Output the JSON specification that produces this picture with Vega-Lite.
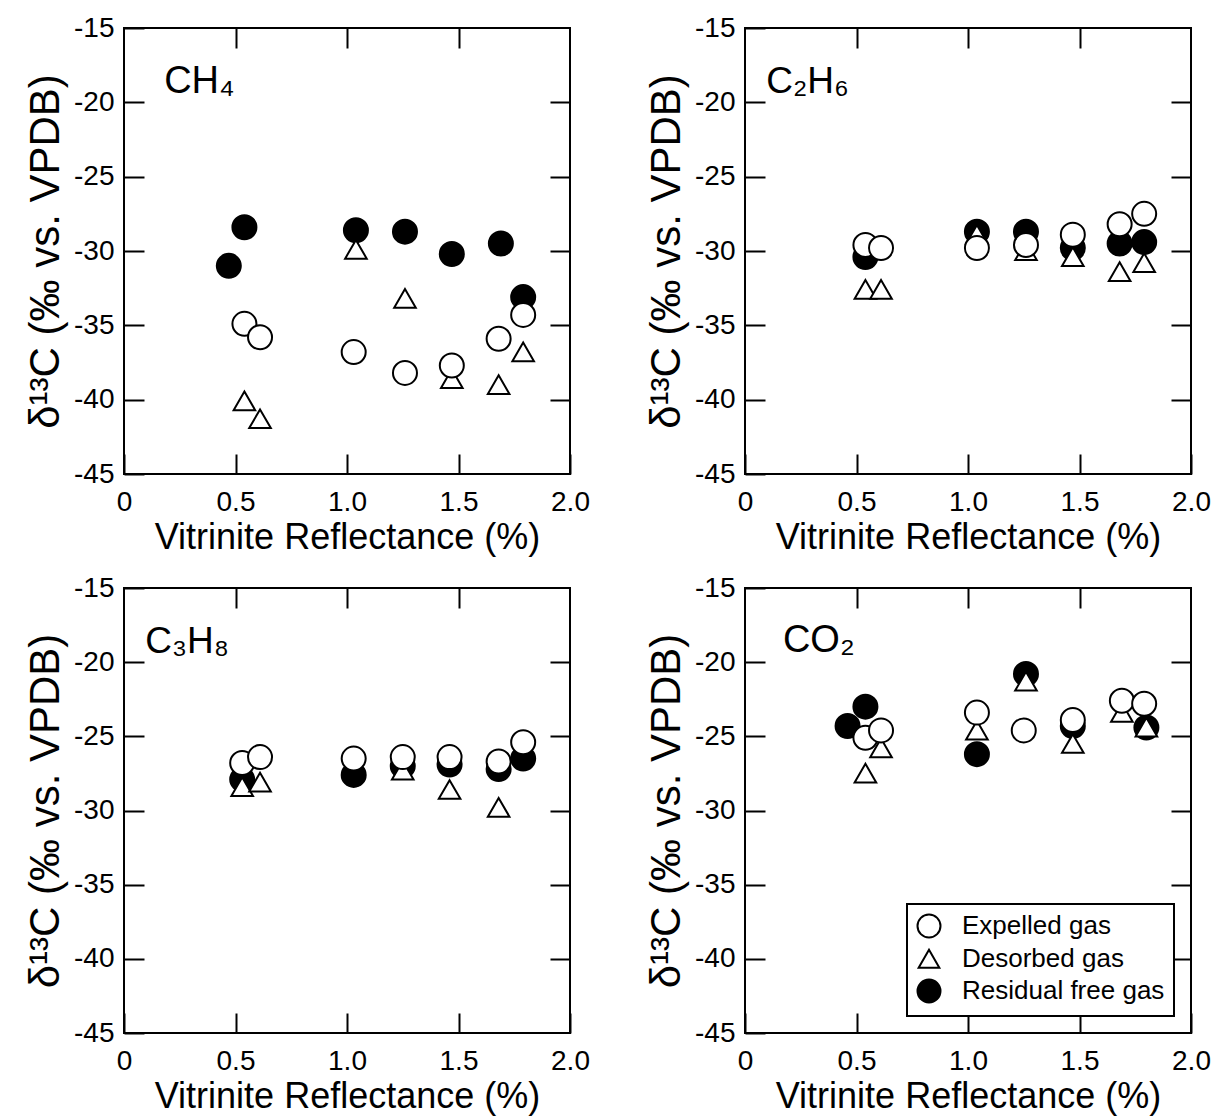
{
  "$schema": "https://vega.github.io/schema/vega-lite/v6.json",
  "background": "white",
  "padding": {"left": 23, "top": 13, "right": 5, "bottom": 5},
  "config": {
    "font": "Liberation Sans",
    "view": {"stroke": "black", "strokeWidth": 2},
    "axis": {
      "domain": false, "grid": false, "ticks": true, "tickSize": -20, "tickWidth": 2, "tickColor": "black",
      "labelFont": "Liberation Sans", "labelFontSize": 28, "labelColor": "black",
      "titleFont": "Liberation Sans", "titleFontWeight": "normal", "titleColor": "black",
      "labelOverlap": false, "labelFlush": false
    },
    "axisX": {"titleFontSize": 36},
    "axisY": {"titleFontSize": 42},
    "legend": {"strokeWidth": 2}
  },
  "datasets": {
    "pts": [
      {"gas": "CH4", "type": "Residual free gas", "ro": 0.47, "d13c": -31.0},
      {"gas": "CH4", "type": "Residual free gas", "ro": 0.54, "d13c": -28.4},
      {"gas": "CH4", "type": "Residual free gas", "ro": 1.04, "d13c": -28.6},
      {"gas": "CH4", "type": "Residual free gas", "ro": 1.26, "d13c": -28.7},
      {"gas": "CH4", "type": "Residual free gas", "ro": 1.47, "d13c": -30.2},
      {"gas": "CH4", "type": "Residual free gas", "ro": 1.69, "d13c": -29.5},
      {"gas": "CH4", "type": "Residual free gas", "ro": 1.79, "d13c": -33.1},
      {"gas": "CH4", "type": "Desorbed gas", "ro": 0.54, "d13c": -40.1},
      {"gas": "CH4", "type": "Desorbed gas", "ro": 0.61, "d13c": -41.3},
      {"gas": "CH4", "type": "Desorbed gas", "ro": 1.04, "d13c": -29.9},
      {"gas": "CH4", "type": "Desorbed gas", "ro": 1.26, "d13c": -33.2},
      {"gas": "CH4", "type": "Desorbed gas", "ro": 1.47, "d13c": -38.6},
      {"gas": "CH4", "type": "Desorbed gas", "ro": 1.68, "d13c": -39.0},
      {"gas": "CH4", "type": "Desorbed gas", "ro": 1.79, "d13c": -36.8},
      {"gas": "CH4", "type": "Expelled gas", "ro": 0.54, "d13c": -34.9},
      {"gas": "CH4", "type": "Expelled gas", "ro": 0.61, "d13c": -35.8},
      {"gas": "CH4", "type": "Expelled gas", "ro": 1.03, "d13c": -36.8},
      {"gas": "CH4", "type": "Expelled gas", "ro": 1.26, "d13c": -38.2},
      {"gas": "CH4", "type": "Expelled gas", "ro": 1.47, "d13c": -37.7},
      {"gas": "CH4", "type": "Expelled gas", "ro": 1.68, "d13c": -35.9},
      {"gas": "CH4", "type": "Expelled gas", "ro": 1.79, "d13c": -34.3},

      {"gas": "C2H6", "type": "Residual free gas", "ro": 0.54, "d13c": -30.4},
      {"gas": "C2H6", "type": "Residual free gas", "ro": 1.04, "d13c": -28.7},
      {"gas": "C2H6", "type": "Residual free gas", "ro": 1.26, "d13c": -28.7},
      {"gas": "C2H6", "type": "Residual free gas", "ro": 1.47, "d13c": -29.8},
      {"gas": "C2H6", "type": "Residual free gas", "ro": 1.68, "d13c": -29.5},
      {"gas": "C2H6", "type": "Residual free gas", "ro": 1.79, "d13c": -29.4},
      {"gas": "C2H6", "type": "Desorbed gas", "ro": 0.54, "d13c": -32.6},
      {"gas": "C2H6", "type": "Desorbed gas", "ro": 0.61, "d13c": -32.6},
      {"gas": "C2H6", "type": "Desorbed gas", "ro": 1.04, "d13c": -28.9},
      {"gas": "C2H6", "type": "Desorbed gas", "ro": 1.26, "d13c": -30.0},
      {"gas": "C2H6", "type": "Desorbed gas", "ro": 1.47, "d13c": -30.4},
      {"gas": "C2H6", "type": "Desorbed gas", "ro": 1.68, "d13c": -31.4},
      {"gas": "C2H6", "type": "Desorbed gas", "ro": 1.79, "d13c": -30.8},
      {"gas": "C2H6", "type": "Expelled gas", "ro": 0.54, "d13c": -29.6},
      {"gas": "C2H6", "type": "Expelled gas", "ro": 0.61, "d13c": -29.8},
      {"gas": "C2H6", "type": "Expelled gas", "ro": 1.04, "d13c": -29.8},
      {"gas": "C2H6", "type": "Expelled gas", "ro": 1.26, "d13c": -29.6},
      {"gas": "C2H6", "type": "Expelled gas", "ro": 1.47, "d13c": -28.9},
      {"gas": "C2H6", "type": "Expelled gas", "ro": 1.68, "d13c": -28.2},
      {"gas": "C2H6", "type": "Expelled gas", "ro": 1.79, "d13c": -27.5},

      {"gas": "C3H8", "type": "Residual free gas", "ro": 0.53, "d13c": -27.9},
      {"gas": "C3H8", "type": "Residual free gas", "ro": 1.03, "d13c": -27.6},
      {"gas": "C3H8", "type": "Residual free gas", "ro": 1.25, "d13c": -27.0},
      {"gas": "C3H8", "type": "Residual free gas", "ro": 1.46, "d13c": -26.9},
      {"gas": "C3H8", "type": "Residual free gas", "ro": 1.68, "d13c": -27.2},
      {"gas": "C3H8", "type": "Residual free gas", "ro": 1.79, "d13c": -26.5},
      {"gas": "C3H8", "type": "Desorbed gas", "ro": 0.53, "d13c": -28.4},
      {"gas": "C3H8", "type": "Desorbed gas", "ro": 0.61, "d13c": -28.1},
      {"gas": "C3H8", "type": "Desorbed gas", "ro": 1.25, "d13c": -27.3},
      {"gas": "C3H8", "type": "Desorbed gas", "ro": 1.46, "d13c": -28.6},
      {"gas": "C3H8", "type": "Desorbed gas", "ro": 1.68, "d13c": -29.8},
      {"gas": "C3H8", "type": "Expelled gas", "ro": 0.53, "d13c": -26.8},
      {"gas": "C3H8", "type": "Expelled gas", "ro": 0.61, "d13c": -26.4},
      {"gas": "C3H8", "type": "Expelled gas", "ro": 1.03, "d13c": -26.5},
      {"gas": "C3H8", "type": "Expelled gas", "ro": 1.25, "d13c": -26.4},
      {"gas": "C3H8", "type": "Expelled gas", "ro": 1.46, "d13c": -26.4},
      {"gas": "C3H8", "type": "Expelled gas", "ro": 1.68, "d13c": -26.7},
      {"gas": "C3H8", "type": "Expelled gas", "ro": 1.79, "d13c": -25.4},

      {"gas": "CO2", "type": "Residual free gas", "ro": 0.46, "d13c": -24.3},
      {"gas": "CO2", "type": "Residual free gas", "ro": 0.54, "d13c": -23.0},
      {"gas": "CO2", "type": "Residual free gas", "ro": 1.04, "d13c": -26.2},
      {"gas": "CO2", "type": "Residual free gas", "ro": 1.26, "d13c": -20.8},
      {"gas": "CO2", "type": "Residual free gas", "ro": 1.47, "d13c": -24.3},
      {"gas": "CO2", "type": "Residual free gas", "ro": 1.80, "d13c": -24.4},
      {"gas": "CO2", "type": "Desorbed gas", "ro": 0.54, "d13c": -27.5},
      {"gas": "CO2", "type": "Desorbed gas", "ro": 0.61, "d13c": -25.8},
      {"gas": "CO2", "type": "Desorbed gas", "ro": 1.04, "d13c": -24.6},
      {"gas": "CO2", "type": "Desorbed gas", "ro": 1.26, "d13c": -21.3},
      {"gas": "CO2", "type": "Desorbed gas", "ro": 1.47, "d13c": -25.5},
      {"gas": "CO2", "type": "Desorbed gas", "ro": 1.69, "d13c": -23.4},
      {"gas": "CO2", "type": "Desorbed gas", "ro": 1.80, "d13c": -24.4},
      {"gas": "CO2", "type": "Expelled gas", "ro": 0.54, "d13c": -25.1},
      {"gas": "CO2", "type": "Expelled gas", "ro": 0.61, "d13c": -24.6},
      {"gas": "CO2", "type": "Expelled gas", "ro": 1.04, "d13c": -23.4},
      {"gas": "CO2", "type": "Expelled gas", "ro": 1.25, "d13c": -24.6},
      {"gas": "CO2", "type": "Expelled gas", "ro": 1.47, "d13c": -23.9},
      {"gas": "CO2", "type": "Expelled gas", "ro": 1.69, "d13c": -22.6},
      {"gas": "CO2", "type": "Expelled gas", "ro": 1.79, "d13c": -22.8}
    ]
  },
  "columns": 2,
  "bounds": "flush",
  "spacing": {"row": 114, "column": 175},
  "resolve": {"legend": {"shape": "independent", "fill": "independent", "stroke": "independent"}},
  "concat": [
    {
      "width": 446, "height": 446,
      "layer": [
        {
          "data": {"name": "pts"},
          "transform": [{"filter": "datum.gas === 'CH4'"}],
          "mark": {"type": "point", "filled": true, "stroke": "black", "strokeWidth": 2, "opacity": 1, "size": 576},
          "encoding": {
            "x": {"field": "ro", "type": "quantitative", "scale": {"domain": [0, 2], "nice": false, "zero": false},
                  "axis": {"orient": "bottom", "values": [0, 0.5, 1, 1.5, 2], "labelExpr": "datum.value === 0 ? '0' : format(datum.value, '.1f')", "labelPadding": 34, "title": "Vitrinite Reflectance (%)", "titlePadding": 4}},
            "y": {"field": "d13c", "type": "quantitative", "scale": {"domain": [-45, -15], "nice": false, "zero": false},
                  "axis": {"orient": "left", "values": [-45, -40, -35, -30, -25, -20, -15], "labelExpr": "'' + datum.value", "labelPadding": 30, "title": "δ¹³C (‰ vs. VPDB)", "titlePadding": 6}},
            "shape": {"field": "type", "type": "nominal", "scale": {"domain": ["Expelled gas", "Desorbed gas", "Residual free gas"], "range": ["circle", "M0,-0.8L0.9,0.76L-0.9,0.76Z", "circle"]}, "legend": null},
            "fill": {"field": "type", "type": "nominal", "scale": {"domain": ["Expelled gas", "Desorbed gas", "Residual free gas"], "range": ["white", "white", "black"]}, "legend": null}
          }
        },
        {
          "data": {"name": "pts"},
          "transform": [{"filter": "datum.gas === 'CH4'"}],
          "mark": {"type": "point", "opacity": 0},
          "encoding": {
            "x": {"field": "ro", "type": "quantitative", "axis": {"orient": "top", "values": [0.5, 1, 1.5], "labels": false, "title": null}},
            "y": {"field": "d13c", "type": "quantitative", "axis": {"orient": "right", "values": [-40, -35, -30, -25, -20], "labels": false, "title": null}}
          }
        },
        {
          "data": {"values": [{"label": "CH₄"}]},
          "mark": {"type": "text", "align": "left", "baseline": "alphabetic", "fontSize": 38, "font": "Liberation Sans", "color": "black"},
          "encoding": {
            "x": {"datum": 0.18, "type": "quantitative", "axis": null},
            "y": {"datum": -19.4, "type": "quantitative", "axis": null},
            "text": {"field": "label"}
          }
        }
      ],
      "resolve": {"axis": {"x": "independent", "y": "independent"}}
    },
    {
      "width": 446, "height": 446,
      "layer": [
        {
          "data": {"name": "pts"},
          "transform": [{"filter": "datum.gas === 'C2H6'"}],
          "mark": {"type": "point", "filled": true, "stroke": "black", "strokeWidth": 2, "opacity": 1, "size": 576},
          "encoding": {
            "x": {"field": "ro", "type": "quantitative", "scale": {"domain": [0, 2], "nice": false, "zero": false},
                  "axis": {"orient": "bottom", "values": [0, 0.5, 1, 1.5, 2], "labelExpr": "datum.value === 0 ? '0' : format(datum.value, '.1f')", "labelPadding": 34, "title": "Vitrinite Reflectance (%)", "titlePadding": 4}},
            "y": {"field": "d13c", "type": "quantitative", "scale": {"domain": [-45, -15], "nice": false, "zero": false},
                  "axis": {"orient": "left", "values": [-45, -40, -35, -30, -25, -20, -15], "labelExpr": "'' + datum.value", "labelPadding": 30, "title": "δ¹³C (‰ vs. VPDB)", "titlePadding": 6}},
            "shape": {"field": "type", "type": "nominal", "scale": {"domain": ["Expelled gas", "Desorbed gas", "Residual free gas"], "range": ["circle", "M0,-0.8L0.9,0.76L-0.9,0.76Z", "circle"]}, "legend": null},
            "fill": {"field": "type", "type": "nominal", "scale": {"domain": ["Expelled gas", "Desorbed gas", "Residual free gas"], "range": ["white", "white", "black"]}, "legend": null}
          }
        },
        {
          "data": {"name": "pts"},
          "transform": [{"filter": "datum.gas === 'C2H6'"}],
          "mark": {"type": "point", "opacity": 0},
          "encoding": {
            "x": {"field": "ro", "type": "quantitative", "axis": {"orient": "top", "values": [0.5, 1, 1.5], "labels": false, "title": null}},
            "y": {"field": "d13c", "type": "quantitative", "axis": {"orient": "right", "values": [-40, -35, -30, -25, -20], "labels": false, "title": null}}
          }
        },
        {
          "data": {"values": [{"label": "C₂H₆"}]},
          "mark": {"type": "text", "align": "left", "baseline": "alphabetic", "fontSize": 37, "font": "Liberation Sans", "color": "black"},
          "encoding": {
            "x": {"datum": 0.095, "type": "quantitative", "axis": null},
            "y": {"datum": -19.4, "type": "quantitative", "axis": null},
            "text": {"field": "label"}
          }
        }
      ],
      "resolve": {"axis": {"x": "independent", "y": "independent"}}
    },
    {
      "width": 446, "height": 445,
      "layer": [
        {
          "data": {"name": "pts"},
          "transform": [{"filter": "datum.gas === 'C3H8'"}],
          "mark": {"type": "point", "filled": true, "stroke": "black", "strokeWidth": 2, "opacity": 1, "size": 576},
          "encoding": {
            "x": {"field": "ro", "type": "quantitative", "scale": {"domain": [0, 2], "nice": false, "zero": false},
                  "axis": {"orient": "bottom", "values": [0, 0.5, 1, 1.5, 2], "labelExpr": "datum.value === 0 ? '0' : format(datum.value, '.1f')", "labelPadding": 34, "title": "Vitrinite Reflectance (%)", "titlePadding": 4}},
            "y": {"field": "d13c", "type": "quantitative", "scale": {"domain": [-45, -15], "nice": false, "zero": false},
                  "axis": {"orient": "left", "values": [-45, -40, -35, -30, -25, -20, -15], "labelExpr": "'' + datum.value", "labelPadding": 30, "title": "δ¹³C (‰ vs. VPDB)", "titlePadding": 6}},
            "shape": {"field": "type", "type": "nominal", "scale": {"domain": ["Expelled gas", "Desorbed gas", "Residual free gas"], "range": ["circle", "M0,-0.8L0.9,0.76L-0.9,0.76Z", "circle"]}, "legend": null},
            "fill": {"field": "type", "type": "nominal", "scale": {"domain": ["Expelled gas", "Desorbed gas", "Residual free gas"], "range": ["white", "white", "black"]}, "legend": null}
          }
        },
        {
          "data": {"name": "pts"},
          "transform": [{"filter": "datum.gas === 'C3H8'"}],
          "mark": {"type": "point", "opacity": 0},
          "encoding": {
            "x": {"field": "ro", "type": "quantitative", "axis": {"orient": "top", "values": [0.5, 1, 1.5], "labels": false, "title": null}},
            "y": {"field": "d13c", "type": "quantitative", "axis": {"orient": "right", "values": [-40, -35, -30, -25, -20], "labels": false, "title": null}}
          }
        },
        {
          "data": {"values": [{"label": "C₃H₈"}]},
          "mark": {"type": "text", "align": "left", "baseline": "alphabetic", "fontSize": 37, "font": "Liberation Sans", "color": "black"},
          "encoding": {
            "x": {"datum": 0.095, "type": "quantitative", "axis": null},
            "y": {"datum": -19.4, "type": "quantitative", "axis": null},
            "text": {"field": "label"}
          }
        }
      ],
      "resolve": {"axis": {"x": "independent", "y": "independent"}}
    },
    {
      "width": 446, "height": 445,
      "layer": [
        {
          "data": {"name": "pts"},
          "transform": [{"filter": "datum.gas === 'CO2'"}],
          "mark": {"type": "point", "filled": true, "strokeWidth": 2, "opacity": 1, "size": 576},
          "encoding": {
            "x": {"field": "ro", "type": "quantitative", "scale": {"domain": [0, 2], "nice": false, "zero": false},
                  "axis": {"orient": "bottom", "values": [0, 0.5, 1, 1.5, 2], "labelExpr": "datum.value === 0 ? '0' : format(datum.value, '.1f')", "labelPadding": 34, "title": "Vitrinite Reflectance (%)", "titlePadding": 4}},
            "y": {"field": "d13c", "type": "quantitative", "scale": {"domain": [-45, -15], "nice": false, "zero": false},
                  "axis": {"orient": "left", "values": [-45, -40, -35, -30, -25, -20, -15], "labelExpr": "'' + datum.value", "labelPadding": 30, "title": "δ¹³C (‰ vs. VPDB)", "titlePadding": 6}},
            "shape": {"field": "type", "type": "nominal", "scale": {"domain": ["Expelled gas", "Desorbed gas", "Residual free gas"], "range": ["circle", "M0,-0.8L0.9,0.76L-0.9,0.76Z", "circle"]},
                      "legend": {"orient": "bottom-right", "offset": 17, "title": null, "strokeColor": "black", "fillColor": "white", "padding": 9, "rowPadding": 3, "labelFont": "Liberation Sans", "labelFontSize": 26, "labelColor": "black", "labelOffset": 20, "labelLimit": 400, "symbolSize": 529, "symbolStrokeWidth": 2}},
            "fill": {"field": "type", "type": "nominal", "scale": {"domain": ["Expelled gas", "Desorbed gas", "Residual free gas"], "range": ["white", "white", "black"]},
                     "legend": {"orient": "bottom-right", "offset": 17, "title": null, "strokeColor": "black", "fillColor": "white", "padding": 9, "rowPadding": 3, "labelFont": "Liberation Sans", "labelFontSize": 26, "labelColor": "black", "labelOffset": 20, "labelLimit": 400, "symbolSize": 529, "symbolStrokeWidth": 2}},
            "stroke": {"field": "type", "type": "nominal", "scale": {"domain": ["Expelled gas", "Desorbed gas", "Residual free gas"], "range": ["black", "black", "black"]},
                       "legend": {"orient": "bottom-right", "offset": 17, "title": null, "strokeColor": "black", "fillColor": "white", "padding": 9, "rowPadding": 3, "labelFont": "Liberation Sans", "labelFontSize": 26, "labelColor": "black", "labelOffset": 20, "labelLimit": 400, "symbolSize": 529, "symbolStrokeWidth": 2}}
          }
        },
        {
          "data": {"name": "pts"},
          "transform": [{"filter": "datum.gas === 'CO2'"}],
          "mark": {"type": "point", "opacity": 0},
          "encoding": {
            "x": {"field": "ro", "type": "quantitative", "axis": {"orient": "top", "values": [0.5, 1, 1.5], "labels": false, "title": null}},
            "y": {"field": "d13c", "type": "quantitative", "axis": {"orient": "right", "values": [-40, -35, -30, -25, -20], "labels": false, "title": null}}
          }
        },
        {
          "data": {"values": [{"label": "CO₂"}]},
          "mark": {"type": "text", "align": "left", "baseline": "alphabetic", "fontSize": 38, "font": "Liberation Sans", "color": "black"},
          "encoding": {
            "x": {"datum": 0.17, "type": "quantitative", "axis": null},
            "y": {"datum": -19.3, "type": "quantitative", "axis": null},
            "text": {"field": "label"}
          }
        }
      ],
      "resolve": {"axis": {"x": "independent", "y": "independent"}}
    }
  ]
}
